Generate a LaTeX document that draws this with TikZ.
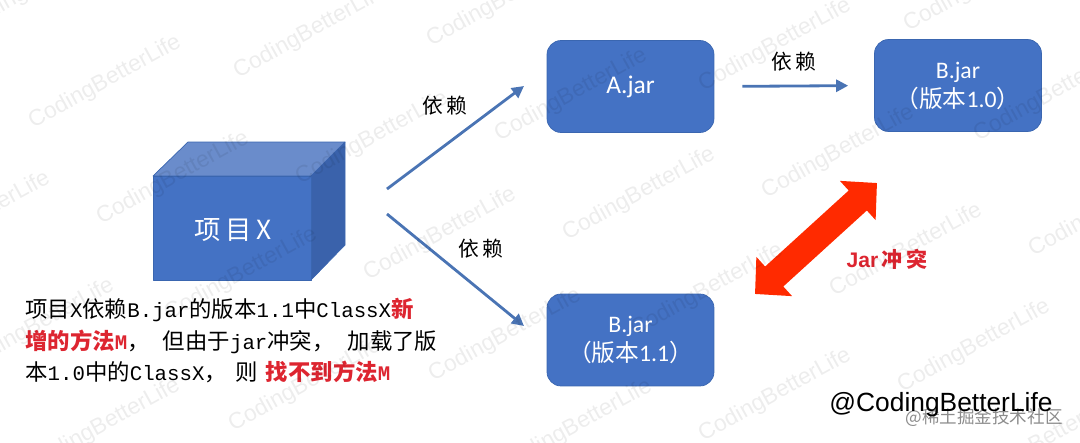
\documentclass[tikz,border=0pt]{standalone}
\usepackage{fontspec}
\setmainfont{Carlito}
\newfontfamily\cjk{Noto Sans CJK SC}
\newfontfamily\cjkbody[Scale=1.08]{Noto Sans CJK SC}
\newfontfamily\monotxt{Liberation Mono}
\newfontfamily\arialtxt{Liberation Sans}
\usepackage{xcolor}
\usepackage{tikz}
\usetikzlibrary{arrows.meta}
\definecolor{boxblue}{HTML}{4472C4}
\definecolor{boxedge}{HTML}{3A66B0}
\definecolor{topblue}{HTML}{6A8CCB}
\definecolor{sideblue}{HTML}{3A62AB}
\definecolor{flowblue}{HTML}{4A74B4}
\definecolor{hotred}{HTML}{FF2A00}
\definecolor{txtred}{HTML}{DD2530}
\newcommand{\zh}[1]{{\cjk #1}}
\newcommand{\zb}[1]{{\cjkbody #1}}
\newcommand{\rd}[1]{{\color{txtred}\bfseries #1}}
\tikzset{jarbox/.style={draw=boxedge,fill=boxblue,rounded corners=0.28cm,minimum width=3.34cm,minimum height=1.84cm,
    align=center,text=white,inner sep=0pt,font=\fontsize{13.5}{16.5}\selectfont}}
\tikzset{flow/.style={-{Triangle[length=0.24cm,width=0.24cm]},draw=flowblue,line width=1.6pt}}
\tikzset{dep/.style={font=\fontsize{11.8}{14}\cjk,text=black}}
\tikzset{wmark/.style={font=\fontsize{13}{15}\arialtxt,text=black,text opacity=0.07,rotate=29,inner sep=0pt}}

\begin{document}
\begin{tikzpicture}[x=0.02cm,y=-0.02cm]
    \path[use as bounding box,clip] (0,0) rectangle (1080,443);
    % cube
    \draw[draw=boxedge,fill=topblue,line join=round] (153,176) -- (188,142) -- (345,142) -- (311,176) -- cycle;
    \draw[draw=boxedge,fill=sideblue,line join=round] (311,176) -- (345,142) -- (345,245) -- (311,280) -- cycle;
    \draw[draw=boxedge,fill=boxblue,line join=round] (153,176) rectangle (311,280);
    \node[text=white,font=\fontsize{15}{17}\cjk] (prjx) at (233,230) {项\,目\,X};

    \node[jarbox,font=\fontsize{14.5}{17}\selectfont] (ajar) at (630.5,86.5) {A.jar};
    \node[jarbox] (bold) at (958,85.5) {B.jar\\\zh{（版本}1.0\zh{）}};
    \node[jarbox] (bnew) at (630.5,340) {B.jar\\\zh{（版本}1.1\zh{）}};

    \coordinate (upfrom) at (387,189);
    \coordinate (upto) at (524,86);
    \coordinate (downfrom) at (387,214);
    \coordinate (downto) at (524,326);
    \path (upfrom) edge[flow] (upto);
    \path (downfrom) edge[flow] (downto);
    \path (ajar.east) edge[flow,shorten >=0.52cm,shorten <=0.56cm] (bold.west);

    \node[dep] (dep1) at (445,105.5) {依\,赖};
    \node[dep] (dep2) at (481,248.5) {依\,赖};
    \node[dep] (dep3) at (794,61.5) {依\,赖};

    % conflict arrow
    \coordinate (clow) at (755,294);
    \coordinate (chigh) at (877,183);
    \draw[{Triangle[length=0.52cm,width=1.03cm]}-{Triangle[length=0.52cm,width=1.03cm]},draw=hotred,line width=0.54cm] (clow) -- (chigh);
    \node[text=txtred,font=\fontsize{12}{14}\bfseries] (clash) at (887,259) {\arialtxt Jar\,\zh{冲\,突}};

    \node[anchor=north west,inner sep=0pt,align=left,font=\fontsize{11.8}{17.9}\monotxt] (desc) at (25,298) {%
        \zb{项目}X\zb{依赖}B.jar\zb{的版本}1.1\zb{中}ClassX\rd{\zb{新}}\\
        \rd{\zb{增的方法}M}\zb{，}\hspace{7.5pt}\zb{但由于}jar\zb{冲突，}\hspace{7.5pt}\zb{加载了版}\\
        \zb{本}1.0\zb{中的}ClassX\zb{，}\hspace{5pt}\zb{则}\hspace{4.5pt}\rd{\zb{找不到方法}M}};

    \node[font=\fontsize{15}{17}\arialtxt,text=black] (handle) at (941,405) {@CodingBetterLife};
    \node[font=\fontsize{10}{12}\cjk,text=black,text opacity=0.45] (site) at (984,418) {@稀土掘金技术社区};

    % watermark
    \foreach \wx/\wy [count=\i] in {173/178,440/234,707/290,974/346,-94/122,
        105/82,372/138,639/194,906/250,1173/306,
        37/-14,310/32,571/95,838/152,1105/210,
        236/-54,503/0,775/45,1050/95,
        980/-15,
        241/274,505/335,775/395,1042/442,-26/218,
        305/385,576/426,38/325,104/425}
        \node[wmark] (wm\i) at (\wx,\wy) {CodingBetterLife};
\end{tikzpicture}
\end{document}
